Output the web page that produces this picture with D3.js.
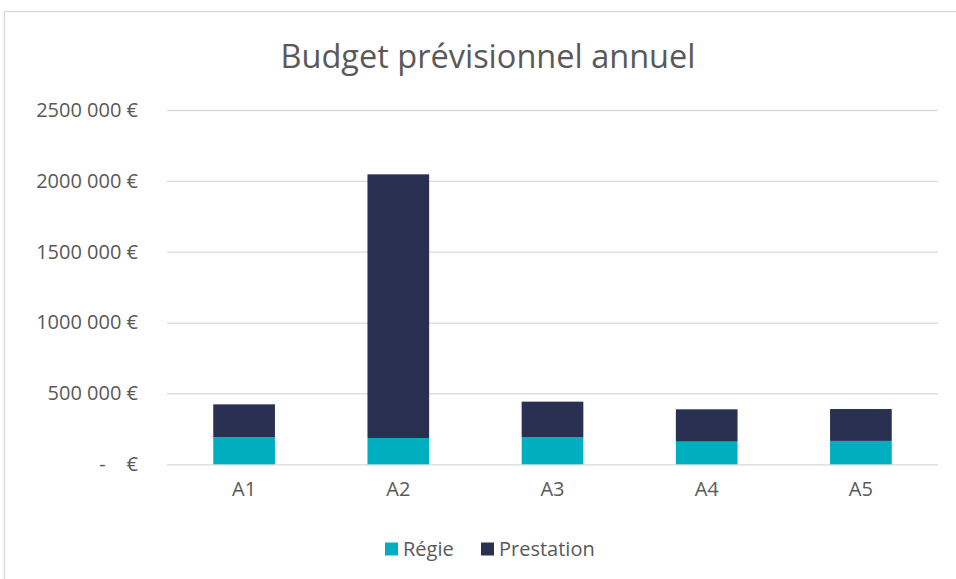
<!DOCTYPE html>
<html lang="fr">
<head>
<meta charset="utf-8">
<title>Budget prévisionnel annuel</title>
<script src="https://d3js.org/d3.v7.min.js"></script>
<style>
  body { margin: 0; background: #fff; }
  svg { display: block; font-family: "Open Sans", sans-serif; }
  .grid line { stroke: #d9d9d9; stroke-width: 1.3; }
  .grid path { display: none; }
  .axis text { fill: #595959; }
  .axis path, .axis line { display: none; }
</style>
</head>
<body>
<div id="chart"></div>
<script>
const categories = ["A1", "A2", "A3", "A4", "A5"];
const regie      = [190000, 185000, 190000, 160000, 165000];
const prestation = [233000, 1861000, 252000, 228000, 225000];
const yTicks      = [0, 500000, 1000000, 1500000, 2000000, 2500000];
const yTickLabels = ["-\u00a0\u00a0\u00a0\u00a0€", "500 000 €", "1000 000 €", "1500 000 €", "2000 000 €", "2500 000 €"];
const seriesNames = ["Régie", "Prestation"];
const colors = ["#00afbf", "#293052"];

const W = 956, H = 579;
const plotLeft = 167, plotRight = 938, plotTop = 110, plotBottom = 464.3;
const fontSize = 20;

const svg = d3.select("#chart").append("svg")
  .attr("width", W).attr("height", H);

// chart frame
svg.append("rect")
  .attr("x", 4.5).attr("y", 11.5)
  .attr("width", W + 10).attr("height", H + 10)
  .attr("fill", "none").attr("stroke", "#d9d9d9").attr("stroke-width", 1.3);

svg.append("text")
  .attr("x", 488).attr("y", 68)
  .attr("text-anchor", "middle")
  .attr("font-size", 32.5)
  .attr("fill", "#595959")
  .text("Budget prévisionnel annuel");

const x = d3.scaleBand().domain(categories).range([plotLeft, plotRight]).paddingInner(0.6).paddingOuter(0.3);
const y = d3.scaleLinear().domain([0, 2500000]).range([plotBottom, plotTop]);

// gridlines
svg.append("g").attr("class", "grid")
  .attr("transform", `translate(${plotLeft},0)`)
  .call(d3.axisLeft(y).tickValues(yTicks).tickSize(-(plotRight - plotLeft)).tickFormat(""));

// y labels
svg.append("g").attr("class", "axis")
  .attr("transform", `translate(${plotLeft},0)`)
  .call(d3.axisLeft(y).tickValues(yTicks).tickSize(0).tickPadding(29)
    .tickFormat((d, i) => yTickLabels[i]))
  .selectAll("text").attr("font-size", fontSize).attr("font-family", "Open Sans, sans-serif");

// x labels
svg.append("g").attr("class", "axis")
  .attr("transform", `translate(0,${plotBottom})`)
  .call(d3.axisBottom(x).tickSize(0).tickPadding(18))
  .selectAll("text").attr("font-size", fontSize).attr("font-family", "Open Sans, sans-serif");

// stacked bars
const rows = categories.map((c, i) => ({ cat: c, "Régie": regie[i], "Prestation": prestation[i] }));
const stacked = d3.stack().keys(seriesNames)(rows);

svg.append("g").selectAll("g")
  .data(stacked).join("g")
  .attr("fill", (d, i) => colors[i])
  .selectAll("rect")
  .data(d => d).join("rect")
  .attr("x", d => x(d.data.cat))
  .attr("width", x.bandwidth())
  .attr("y", d => y(d[1]))
  .attr("height", d => y(d[0]) - y(d[1]));

// legend
const legend = svg.append("g").attr("transform", "translate(385,549)");
const legendX = [0, 96];
seriesNames.forEach((name, i) => {
  const g = legend.append("g").attr("transform", `translate(${legendX[i]},0)`);
  g.append("rect").attr("x", 0).attr("y", -6.5).attr("width", 13).attr("height", 13).attr("fill", colors[i]);
  g.append("text").attr("x", 18).attr("y", 7)
    .attr("font-size", fontSize).attr("fill", "#595959").text(name);
});
</script>
</body>
</html>
